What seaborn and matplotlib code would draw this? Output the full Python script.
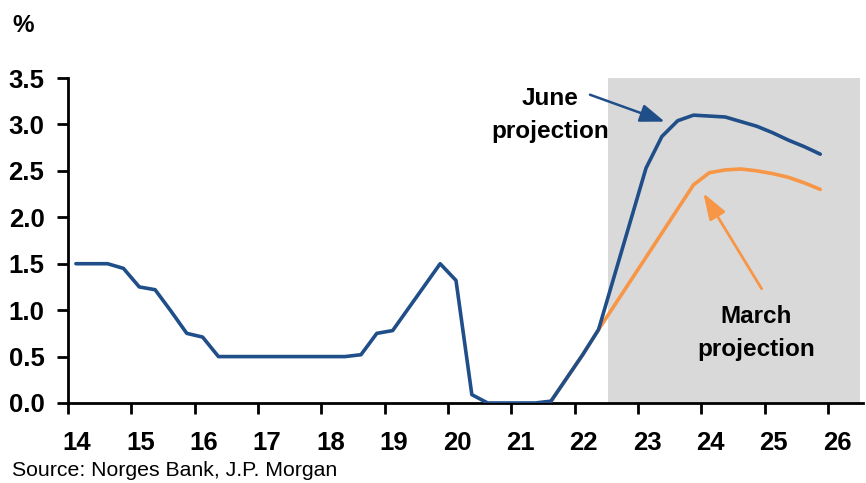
import numpy as np
import pandas as pd
import matplotlib
matplotlib.use("Agg")
import matplotlib.pyplot as plt
import matplotlib.transforms as mtransforms
import seaborn as sns

# Norwegian policy rate, quarterly averages, with the June path appended (%)
june_quarters = [f"{y}Q{q}" for y in range(2014, 2026) for q in range(1, 5)]
june_path = [
    1.50, 1.50, 1.50, 1.45,
    1.25, 1.22, 0.99, 0.75,
    0.71, 0.50, 0.50, 0.50,
    0.50, 0.50, 0.50, 0.50,
    0.50, 0.50, 0.52, 0.75,
    0.78, 1.02, 1.26, 1.50,
    1.32, 0.09, 0.00, 0.00,
    0.00, 0.00, 0.02, 0.27,
    0.52, 0.79, 1.37, 1.95,
    2.53, 2.87, 3.04, 3.10,
    3.09, 3.08, 3.03, 2.98,
    2.91, 2.83, 2.76, 2.68,
]

# March projection path (%)
march_quarters = ["2021Q3", "2021Q4"] + [f"{y}Q{q}" for y in range(2022, 2026) for q in range(1, 5)]
march_path = [
    0.02, 0.27,
    0.52, 0.79, 1.05, 1.31,
    1.57, 1.83, 2.09, 2.35,
    2.48, 2.51, 2.52, 2.50,
    2.47, 2.43, 2.37, 2.30,
]

year_ticks = list(range(14, 27))
y_ticks = [0.0, 0.5, 1.0, 1.5, 2.0, 2.5, 3.0, 3.5]
projection_start = 22.52
projection_end = 26.5


def quarter_pos(label):
    year, q = label.split("Q")
    return int(year) - 2000 + (int(q) - 1) / 4 + 0.125


df = pd.concat([
    pd.DataFrame({"x": [quarter_pos(q) for q in march_quarters], "rate": march_path, "series": "March"}),
    pd.DataFrame({"x": [quarter_pos(q) for q in june_quarters], "rate": june_path, "series": "June"}),
], ignore_index=True)

BLUE = "#1F4E89"
ORANGE = "#F79646"

sns.set_style("ticks")
plt.rcParams["font.family"] = ["Liberation Sans", "DejaVu Sans"]
plt.rcParams["text.color"] = "black"
plt.rcParams["xtick.color"] = "black"
plt.rcParams["ytick.color"] = "black"

fig = plt.figure(figsize=(8.66, 4.83), dpi=100)
ax = fig.add_axes([68 / 866, 1 - 403 / 483, (863 - 68) / 866, (403 - 78) / 483])

ax.axvspan(projection_start, projection_end, ymin=0, ymax=1, color="#D9D9D9", lw=0, zorder=0)

sns.lineplot(data=df, x="x", y="rate", hue="series", hue_order=["March", "June"],
             palette={"March": ORANGE, "June": BLUE}, linewidth=2.6,
             legend=False, ax=ax, zorder=3, sort=False)

ax.set_xlim(14, 26.55)
ax.set_ylim(0, 3.5)
ax.set_xticks(year_ticks)
ax.set_xticklabels([str(y) for y in year_ticks])
ax.set_yticks(y_ticks)
ax.set_yticklabels([f"{v:.1f}" for v in y_ticks])
ax.set_xlabel("")
ax.set_ylabel("")

for side in ["top", "right"]:
    ax.spines[side].set_visible(False)
for side in ["left", "bottom"]:
    ax.spines[side].set_linewidth(2)
    ax.spines[side].set_color("black")

ax.tick_params(axis="both", direction="out", length=8, width=2, colors="black", labelsize=18.5)
ax.tick_params(axis="x", pad=12)
ax.tick_params(axis="y", pad=9)
for lab in ax.get_xticklabels() + ax.get_yticklabels():
    lab.set_fontweight("bold")
shift = mtransforms.ScaledTranslation(9 / 100, 0, fig.dpi_scale_trans)
for lab in ax.get_xticklabels():
    lab.set_transform(lab.get_transform() + shift)

# Annotations
ax.annotate("", xy=(23.42, 3.03), xytext=(22.24, 3.32),
            arrowprops=dict(arrowstyle="-|>,head_length=1.5,head_width=0.55",
                            color=BLUE, lw=1.8, shrinkA=0, shrinkB=0))
ax.text(21.61, 3.10, "June\nprojection", ha="center", va="center", fontsize=17.5,
        fontweight="bold", linespacing=1.55)

ax.annotate("", xy=(24.03, 2.26), xytext=(24.95, 1.23),
            arrowprops=dict(arrowstyle="-|>,head_length=1.6,head_width=0.55",
                            color=ORANGE, lw=2, shrinkA=0, shrinkB=0))
ax.text(24.86, 0.75, "March\nprojection", ha="center", va="center", fontsize=17.5,
        fontweight="bold", linespacing=1.55)

fig.text(12 / 866, 1 - 25 / 483, "%", fontsize=17.5, fontweight="bold", va="center", ha="left")
fig.text(12 / 866, 1 - 470 / 483, "Source: Norges Bank, J.P. Morgan", fontsize=15.3,
         va="center", ha="left")

fig.savefig("out.png", dpi=100)
